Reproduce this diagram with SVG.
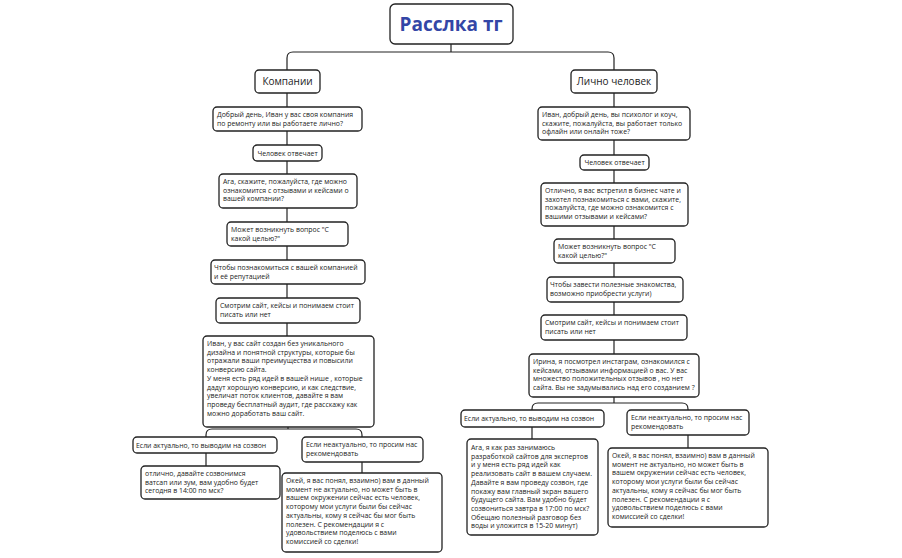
<svg xmlns="http://www.w3.org/2000/svg" width="902" height="558" viewBox="0 0 902 558">
<style>
.b{fill:#fff;stroke:#222;stroke-width:1.3}
.t{font-family:"Open Sans","DejaVu Sans",sans-serif;font-size:6.9px;fill:#222}
.h{font-family:"Open Sans","DejaVu Sans",sans-serif;font-size:10px;fill:#222}
.c{fill:none;stroke:#222;stroke-width:1.2}
</style>
<rect width="902" height="558" fill="#fff"/>
<g id="connectors">
<path class="c" d="M451 44V52M287 70V58Q287 52 293 52H608Q614 52 614 58V70"/>
<path class="c" d="M287 93V336"/>
<path class="c" d="M288 427V429M206 437V435Q206 429 212 429H356Q362 429 362 435V437M206 453V466M362 462V473"/>
<path class="c" d="M614 93V354"/>
<path class="c" d="M614 397V403M532 410V409Q532 403 538 403H682Q688 403 688 409V410M532 427V439M688 435V448"/>
</g>
<g id="title"><rect class="b" x="390" y="4" width="123" height="40" rx="5"/><text x="451" y="31" text-anchor="middle" font-family="Open Sans,sans-serif" font-weight="bold" font-size="19" fill="#3346a6">Расслка тг</text></g>
<g id="l0"><rect class="b" x="255" y="70" width="65" height="23" rx="4"/><text class="h" x="287.5" y="85" text-anchor="middle">Компании</text></g>
<g id="l1"><rect class="b" x="213" y="107" width="149" height="24" rx="4"/><text class="t" y="117"><tspan x="217">Добрый день, Иван у вас своя компания</tspan><tspan x="217" dy="8.7">по ремонту или вы работаете лично?</tspan></text></g>
<g id="l2"><rect class="b" x="253" y="145" width="69" height="16" rx="4"/><text class="t" x="287.5" y="156" text-anchor="middle">Человек отвечает</text></g>
<g id="l3"><rect class="b" x="219" y="174" width="138" height="34" rx="4"/><text class="t" y="184"><tspan x="223">Ага, скажите, пожалуйста, где можно</tspan><tspan x="223" dy="8.7">ознакомится с отзывами и кейсами о</tspan><tspan x="223" dy="8.7">вашей компании?</tspan></text></g>
<g id="l4"><rect class="b" x="227" y="222" width="121" height="24" rx="4"/><text class="t" y="232"><tspan x="231">Может возникнуть вопрос "С</tspan><tspan x="231" dy="8.7">какой целью?"</tspan></text></g>
<g id="l5"><rect class="b" x="211" y="260" width="154" height="24" rx="4"/><text class="t" y="270"><tspan x="214">Чтобы познакомиться с вашей компанией</tspan><tspan x="214" dy="8.7">и её репутацией</tspan></text></g>
<g id="l6"><rect class="b" x="216" y="298" width="144" height="25" rx="4"/><text class="t" y="308"><tspan x="220">Смотрим сайт, кейсы и понимаем стоит</tspan><tspan x="220" dy="8.7">писать или нет</tspan></text></g>
<g id="l7"><rect class="b" x="203" y="336" width="171" height="91" rx="4"/><text class="t" y="346"><tspan x="207">Иван, у вас сайт создан без уникального</tspan><tspan x="207" dy="8.7">дизайна и понятной структуры, которые бы</tspan><tspan x="207" dy="8.7">отражали ваши преимущества и повысили</tspan><tspan x="207" dy="8.7">конверсию сайта.</tspan><tspan x="207" dy="8.7">У меня есть ряд идей в вашей нише , которые</tspan><tspan x="207" dy="8.7">дадут хорошую конверсию, и как следствие,</tspan><tspan x="207" dy="8.7">увеличат поток клиентов, давайте я вам</tspan><tspan x="207" dy="8.7">проведу бесплатный аудит, где расскажу как</tspan><tspan x="207" dy="8.7">можно доработать ваш сайт.</tspan></text></g>
<g id="l8"><rect class="b" x="133" y="437" width="144" height="16" rx="4"/><text class="t" x="136" y="448">Если актуально, то выводим на созвон</text></g>
<g id="l9"><rect class="b" x="302" y="437" width="121" height="25" rx="4"/><text class="t" y="447"><tspan x="306">Если неактуально, то просим нас</tspan><tspan x="306" dy="8.7">рекомендовать</tspan></text></g>
<g id="l10"><rect class="b" x="141" y="466" width="139" height="33" rx="4"/><text class="t" y="476"><tspan x="145">отлично, давайте созвонимся</tspan><tspan x="145" dy="8.7">ватсап или зум, вам удобно будет</tspan><tspan x="145" dy="8.7">сегодня  в 14:00 по мск?</tspan></text></g>
<g id="l11"><rect class="b" x="282" y="473" width="160" height="79" rx="4"/><text class="t" y="483"><tspan x="286">Окей, я вас понял, взаимно) вам в данный</tspan><tspan x="286" dy="8.7">момент не актуально, но может быть в</tspan><tspan x="286" dy="8.7">вашем окружении сейчас есть человек,</tspan><tspan x="286" dy="8.7">которому мои услуги были бы сейчас</tspan><tspan x="286" dy="8.7">актуальны, кому я сейчас бы мог быть</tspan><tspan x="286" dy="8.7">полезен. С рекомендации я с</tspan><tspan x="286" dy="8.7">удовольствием поделюсь с вами</tspan><tspan x="286" dy="8.7">комиссией со сделки!</tspan></text></g>
<g id="r0"><rect class="b" x="571" y="70" width="86" height="23" rx="4"/><text class="h" x="614" y="85" text-anchor="middle">Лично человек</text></g>
<g id="r1"><rect class="b" x="538" y="107" width="152" height="33" rx="4"/><text class="t" y="117"><tspan x="542">Иван, добрый день, вы психолог и коуч,</tspan><tspan x="542" dy="8.7">скажите, пожалуйста, вы работает только</tspan><tspan x="542" dy="8.7">офлайн или онлайн тоже?</tspan></text></g>
<g id="r2"><rect class="b" x="580" y="155" width="69" height="15" rx="4"/><text class="t" x="614.5" y="165" text-anchor="middle">Человек отвечает</text></g>
<g id="r3"><rect class="b" x="541" y="183" width="147" height="43" rx="4"/><text class="t" y="193"><tspan x="545">Отлично, я вас встретил в бизнес чате и</tspan><tspan x="545" dy="8.7">захотел познакомиться с вами, скажите,</tspan><tspan x="545" dy="8.7">пожалуйста, где можно ознакомится с</tspan><tspan x="545" dy="8.7">вашими отзывами и кейсами?</tspan></text></g>
<g id="r4"><rect class="b" x="554" y="239" width="121" height="24" rx="4"/><text class="t" y="249"><tspan x="558">Может возникнуть вопрос "С</tspan><tspan x="558" dy="8.7">какой целью?"</tspan></text></g>
<g id="r5"><rect class="b" x="547" y="277" width="136" height="25" rx="4"/><text class="t" y="287"><tspan x="550">Чтобы завести полезные знакомства,</tspan><tspan x="550" dy="8.7">возможно приобрести услуги)</tspan></text></g>
<g id="r6"><rect class="b" x="541" y="315" width="146" height="25" rx="4"/><text class="t" y="325"><tspan x="545">Смотрим сайт, кейсы и понимаем стоит</tspan><tspan x="545" dy="8.7">писать или нет</tspan></text></g>
<g id="r7"><rect class="b" x="529" y="354" width="170" height="43" rx="4"/><text class="t" y="364"><tspan x="533">Ирина, я посмотрел инстаграм, ознакомился с</tspan><tspan x="533" dy="8.7">кейсами, отзывами информацией о вас. У вас</tspan><tspan x="533" dy="8.7">множество положительных отзывов , но нет</tspan><tspan x="533" dy="8.7">сайта. Вы не задумывались над его созданием ?</tspan></text></g>
<g id="r8"><rect class="b" x="461" y="410" width="143" height="17" rx="4"/><text class="t" x="464" y="421">Если актуально, то выводим на созвон</text></g>
<g id="r9"><rect class="b" x="627" y="410" width="122" height="25" rx="4"/><text class="t" y="420"><tspan x="631">Если неактуально, то просим нас</tspan><tspan x="631" dy="8.7">рекомендовать</tspan></text></g>
<g id="r10"><rect class="b" x="467" y="439" width="131" height="96" rx="4"/><text class="t" y="450"><tspan x="471">Ага, я как раз занимаюсь</tspan><tspan x="471" dy="8.7">разработкой сайтов для  экспертов</tspan><tspan x="471" dy="8.7">и у меня есть ряд идей как</tspan><tspan x="471" dy="8.7">реализовать сайт в вашем случаем.</tspan><tspan x="471" dy="8.7">Давайте я вам проведу созвон, где</tspan><tspan x="471" dy="8.7">покажу вам главный экран вашего</tspan><tspan x="471" dy="8.7">будущего сайта. Вам удобно будет</tspan><tspan x="471" dy="8.7">созвониться завтра в 17:00 по мск?</tspan><tspan x="471" dy="8.7">Обещаю полезный разговор без</tspan><tspan x="471" dy="8.7">воды и уложится в 15-20 минут)</tspan></text></g>
<g id="r11"><rect class="b" x="608" y="448" width="160" height="79" rx="4"/><text class="t" y="458"><tspan x="612">Окей, я вас понял, взаимно) вам в данный</tspan><tspan x="612" dy="8.7">момент не актуально, но может быть в</tspan><tspan x="612" dy="8.7">вашем окружении сейчас есть человек,</tspan><tspan x="612" dy="8.7">которому мои услуги были бы сейчас</tspan><tspan x="612" dy="8.7">актуальны, кому я сейчас бы мог быть</tspan><tspan x="612" dy="8.7">полезен. С рекомендации я с</tspan><tspan x="612" dy="8.7">удовольствием поделюсь с вами</tspan><tspan x="612" dy="8.7">комиссией со сделки!</tspan></text></g>
</svg>
